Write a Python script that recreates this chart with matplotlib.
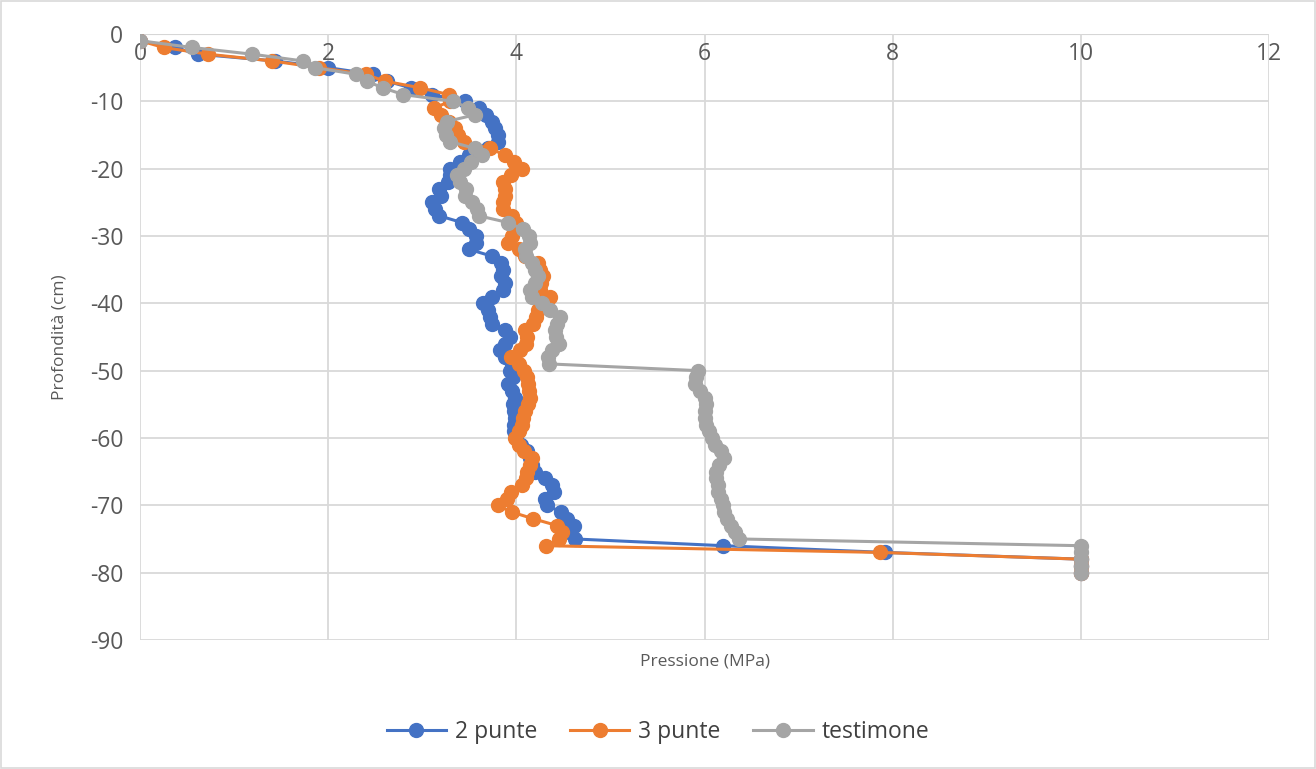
import numpy as np
import matplotlib.pyplot as plt
from matplotlib.patches import Rectangle

plt.rcParams['font.family'] = ['Open Sans', 'DejaVu Sans']
plt.rcParams['axes.unicode_minus'] = False

# depth in cm (negative downwards), one reading per cm
depth = -np.arange(1, 81)

punte_2 = [0.0, 0.37, 0.62, 1.43, 2.0, 2.48, 2.62, 2.88, 3.1, 3.45,
           3.6, 3.68, 3.74, 3.77, 3.8, 3.8, 3.7, 3.5, 3.4, 3.3,
           3.3, 3.27, 3.18, 3.2, 3.1, 3.14, 3.18, 3.42, 3.5, 3.57,
           3.57, 3.5, 3.74, 3.84, 3.86, 3.84, 3.88, 3.86, 3.74, 3.65,
           3.7, 3.72, 3.74, 3.88, 3.93, 3.88, 3.83, 3.88, 3.95, 3.93,
           3.96, 3.91, 3.95, 3.99, 3.96, 3.98, 3.99, 3.97, 3.98, 4.0,
           4.05, 4.11, 4.15, 4.17, 4.2, 4.3, 4.38, 4.4, 4.3, 4.33,
           4.47, 4.54, 4.61, 4.52, 4.62, 6.2, 7.92, 10, 10, 10]

punte_3 = [0.0, 0.25, 0.72, 1.4, 1.9, 2.4, 2.6, 2.98, 3.28, 3.3,
           3.12, 3.2, 3.28, 3.35, 3.38, 3.44, 3.72, 3.88, 3.97, 4.06,
           3.94, 3.86, 3.88, 3.88, 3.86, 3.86, 3.95, 4.0, 3.97, 3.95,
           3.91, 4.03, 4.09, 4.23, 4.25, 4.28, 4.26, 4.25, 4.36, 4.29,
           4.23, 4.21, 4.18, 4.09, 4.11, 4.1, 4.04, 3.94, 4.03, 4.08,
           4.11, 4.12, 4.13, 4.15, 4.12, 4.09, 4.07, 4.06, 4.03, 3.99,
           4.03, 4.08, 4.17, 4.14, 4.11, 4.1, 4.06, 3.94, 3.9, 3.8,
           3.95, 4.18, 4.43, 4.49, 4.45, 4.32, 7.87, 10, 10, 10]

testimone = [0.0, 0.55, 1.19, 1.73, 1.86, 2.3, 2.41, 2.58, 2.8, 3.33,
             3.49, 3.56, 3.26, 3.23, 3.25, 3.3, 3.56, 3.64, 3.52, 3.44,
             3.37, 3.4, 3.46, 3.45, 3.53, 3.58, 3.6, 3.91, 4.07, 4.13,
             4.14, 4.09, 4.1, 4.17, 4.2, 4.23, 4.2, 4.14, 4.17, 4.27,
             4.36, 4.46, 4.43, 4.41, 4.42, 4.45, 4.38, 4.34, 4.35, 5.93,
             5.91, 5.9, 5.95, 6.0, 6.02, 6.0, 6.0, 6.02, 6.05, 6.08,
             6.11, 6.17, 6.21, 6.15, 6.12, 6.12, 6.14, 6.14, 6.17, 6.2,
             6.21, 6.24, 6.28, 6.32, 6.37, 10, 10, 10, 10, 10]

series = [("2 punte", punte_2, "#4472C4"),
          ("3 punte", punte_3, "#ED7D31"),
          ("testimone", testimone, "#A5A5A5")]

fig = plt.figure(figsize=(13.16, 7.69), dpi=100)
ax = fig.add_axes([0.1064, 0.1678, 0.8579, 0.788])

for name, vals, col in series:
    ax.plot(vals, depth, color=col, lw=2.2, marker='o', ms=10, label=name, zorder=3)

ax.set_xlim(0, 12)
ax.set_ylim(-90, 0)
ax.set_xticks(np.arange(0, 13, 2))
ax.set_yticks(np.arange(-90, 1, 10))
ax.grid(True, color='#d9d9d9', lw=1.3, zorder=0)
for s in ax.spines.values():
    s.set_visible(False)
ax.axhline(0, color='#bfbfbf', lw=1.5, zorder=1)

ax.tick_params(axis='x', top=False, bottom=False, labeltop=True, labelbottom=False,
               length=0, pad=-23, labelsize=16.5, labelcolor='#595959')
ax.tick_params(axis='y', length=0, pad=12, labelsize=16.5, labelcolor='#595959')

ax.xaxis.set_label_position('bottom')
ax.set_xlabel("Pressione (MPa)", fontsize=12.5, color='#595959', labelpad=10)
ax.set_ylabel("Profondità (cm)", fontsize=12.5, color='#595959', labelpad=16)

fig.legend(loc='center', bbox_to_anchor=(0.5, 1 - 732 / 769), ncol=3, frameon=False,
           fontsize=16.5, labelcolor='#404040', handlelength=2.6, columnspacing=1.4,
           handletextpad=0.4)

fig.patches.append(Rectangle((0.001, 0.001), 0.998, 0.998, transform=fig.transFigure,
                             fill=False, edgecolor='#d9d9d9', lw=1.2))

fig.savefig("out.png", dpi=100)
